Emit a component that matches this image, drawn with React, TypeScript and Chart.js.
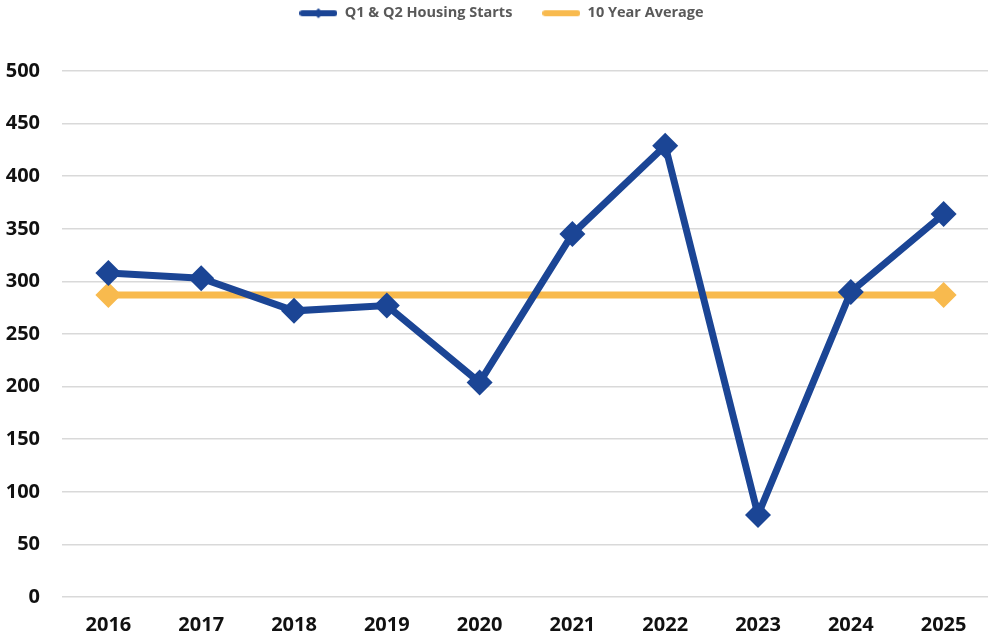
import React, { useEffect, useRef } from "react";
import { Chart, registerables } from "chart.js";

Chart.register(...registerables);

const years = ["2016", "2017", "2018", "2019", "2020", "2021", "2022", "2023", "2024", "2025"];
const housingStarts = [308, 303, 272, 277, 204, 345, 429, 78, 290, 364];
const tenYearAverage = [287, 287, 287, 287, 287, 287, 287, 287, 287, 287];
const yTicks = [0, 50, 100, 150, 200, 250, 300, 350, 400, 450, 500];

const BLUE = "#1B4595";
const ORANGE = "#F8BA4E";

function legendIcon(color: string, diamond: boolean): HTMLCanvasElement {
  const c = document.createElement("canvas");
  c.width = 38;
  c.height = 14;
  const g = c.getContext("2d")!;
  g.strokeStyle = color;
  g.lineWidth = 6;
  g.lineCap = "round";
  g.beginPath();
  g.moveTo(3, 7);
  g.lineTo(35, 7);
  g.stroke();
  if (diamond) {
    g.fillStyle = color;
    g.beginPath();
    g.moveTo(19, 2);
    g.lineTo(24, 7);
    g.lineTo(19, 12);
    g.lineTo(14, 7);
    g.closePath();
    g.fill();
  }
  return c;
}

export default function App() {
  const ref = useRef<HTMLCanvasElement | null>(null);
  useEffect(() => {
    document.body.style.margin = "0";
    document.body.style.overflow = "hidden";
    const icons = [legendIcon(BLUE, true), legendIcon(ORANGE, false)];
    const legendSpacing = {
      id: "legendSpacing",
      beforeInit(chart: any) {
        const orig = chart.legend.fit;
        chart.legend.fit = function () {
          orig.call(this);
          this.height = 95;
        };
      },
    };
    const ctx = ref.current!.getContext("2d")!;
    const chart = new Chart(ctx, {
      type: "line",
      plugins: [legendSpacing],
      data: {
        labels: years,
        datasets: [
          {
            label: "Q1 & Q2 Housing Starts",
            data: housingStarts,
            borderColor: BLUE,
            backgroundColor: BLUE,
            borderWidth: 7,
            pointStyle: "rectRot",
            pointRadius: 13,
            pointBorderWidth: 0,
            pointBackgroundColor: BLUE,
            tension: 0,
            order: 1,
          },
          {
            label: "10 Year Average",
            data: tenYearAverage,
            borderColor: ORANGE,
            backgroundColor: ORANGE,
            borderWidth: 7,
            pointStyle: "rectRot",
            pointRadius: tenYearAverage.map((_, i) => (i === 0 || i === tenYearAverage.length - 1 ? 13 : 0)),
            pointBorderWidth: 0,
            pointBackgroundColor: ORANGE,
            tension: 0,
            order: 2,
          },
        ],
      },
      options: {
        animation: false,
        responsive: false,
        maintainAspectRatio: false,
        layout: { padding: { top: -24, right: 0, bottom: 0, left: 0 } },
        plugins: {
          tooltip: { enabled: false },
          legend: {
            display: true,
            position: "top",
            labels: {
              usePointStyle: true,
              pointStyleWidth: 38,
              boxHeight: 14,
              padding: 30,
              color: "#595959",
              font: { family: "Open Sans", size: 14.5, weight: "bold" },
              generateLabels: (ch: any) => {
                const items = Chart.defaults.plugins.legend.labels.generateLabels(ch);
                return items.map((it: any, i: number) => ({ ...it, pointStyle: icons[i] }));
              },
            },
          },
        },
        scales: {
          x: {
            offset: true,
            afterFit: (s: any) => {
              s.height = 40;
              s.paddingLeft = 0;
              s.paddingRight = 0;
            },
            grid: { display: false },
            border: { display: false },
            ticks: {
              color: "#111",
              padding: 8,
              maxRotation: 0,
              font: { family: "Open Sans", size: 20, weight: "bold" },
            },
          },
          y: {
            min: 0,
            max: 500,
            afterFit: (s: any) => {
              s.width = 62;
            },
            afterBuildTicks: (axis: any) => {
              axis.ticks = yTicks.map((v) => ({ value: v }));
            },
            grid: { color: "#D9D9D9", lineWidth: 1.5, drawTicks: false },
            border: { display: false },
            ticks: {
              color: "#111",
              padding: 22,
              font: { family: "Open Sans", size: 20, weight: "bold" },
            },
          },
        },
      },
    });
    return () => chart.destroy();
  }, []);
  return <canvas ref={ref} width={1003} height={637} style={{ display: "block" }} />;
}
